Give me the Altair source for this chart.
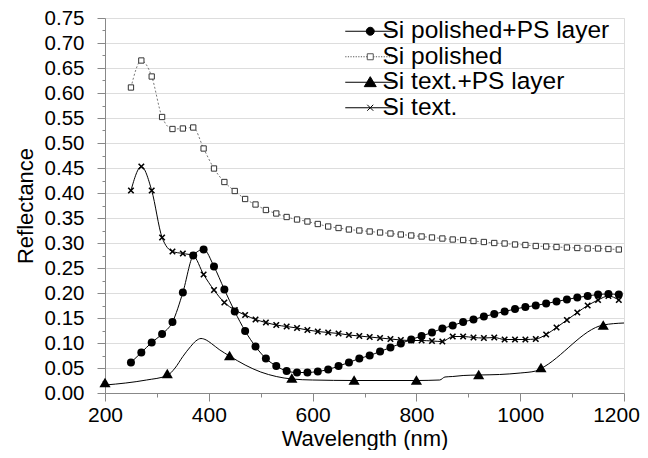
import altair as alt
import pandas as pd

# ---------------- data ----------------
wl = [250, 270, 290, 310, 330, 350, 370, 390, 410, 430, 450, 470, 490, 510, 530, 550,
      570, 590, 610, 630, 650, 670, 690, 710, 730, 750, 770, 790, 810, 830, 850, 870,
      890, 910, 930, 950, 970, 990, 1010, 1030, 1050, 1070, 1090, 1110, 1130, 1150, 1170, 1190]

si_pol_ps = [0.061, 0.081, 0.101, 0.118, 0.142, 0.201, 0.275, 0.287, 0.253, 0.207, 0.163, 0.124,
             0.093, 0.069, 0.054, 0.044, 0.041, 0.041, 0.043, 0.047, 0.054, 0.061, 0.069, 0.075,
             0.083, 0.091, 0.099, 0.107, 0.114, 0.121, 0.129, 0.135, 0.142, 0.147, 0.153, 0.158,
             0.163, 0.168, 0.172, 0.175, 0.179, 0.183, 0.187, 0.191, 0.194, 0.197, 0.198, 0.197]

si_pol = [0.611, 0.665, 0.633, 0.552, 0.528, 0.529, 0.531, 0.489, 0.449, 0.422, 0.404, 0.388,
          0.377, 0.366, 0.359, 0.352, 0.347, 0.343, 0.338, 0.333, 0.330, 0.327, 0.325, 0.323,
          0.321, 0.319, 0.317, 0.315, 0.313, 0.311, 0.309, 0.307, 0.306, 0.304, 0.302, 0.300,
          0.299, 0.297, 0.296, 0.294, 0.293, 0.292, 0.291, 0.290, 0.289, 0.289, 0.288, 0.287]

si_text = [0.405, 0.453, 0.405, 0.311, 0.283, 0.279, 0.275, 0.237, 0.206, 0.181, 0.166, 0.156,
           0.147, 0.141, 0.136, 0.133, 0.130, 0.126, 0.123, 0.121, 0.119, 0.116, 0.114, 0.112,
           0.110, 0.108, 0.106, 0.105, 0.105, 0.104, 0.103, 0.113, 0.113, 0.111, 0.110, 0.111,
           0.107, 0.107, 0.107, 0.108, 0.117, 0.131, 0.146, 0.161, 0.175, 0.186, 0.194, 0.186]

# Si text.+PS layer: measured curve and its triangle markers
tps_line_wl = [200, 240, 280, 320, 335, 350, 365, 375, 385, 395, 405, 420, 440, 470, 500, 530,
               560, 600, 680, 800, 845, 855, 870, 890, 920, 960, 1000, 1030, 1040, 1160, 1200]
tps_line_r = [0.016, 0.020, 0.026, 0.035, 0.050, 0.073, 0.093, 0.104, 0.109, 0.106, 0.099, 0.087,
              0.074, 0.056, 0.042, 0.033, 0.028, 0.026, 0.025, 0.025, 0.026, 0.032, 0.033, 0.035,
              0.036, 0.037, 0.040, 0.044, 0.049, 0.136, 0.140]
tps_mark_wl = [200, 320, 440, 560, 680, 800, 920, 1040, 1160]
tps_mark_r = [0.021, 0.039, 0.075, 0.030, 0.026, 0.026, 0.037, 0.051, 0.136]

series_names = ["Si polished+PS layer", "Si polished", "Si text.+PS layer", "Si text."]

x_ticks = list(range(200, 1201, 100))
y_ticks = [round(i * 0.025, 3) for i in range(31)]

# ---------------- styling ----------------
FONT = "Liberation Sans"


def dotted(a, b, seg=0.3, gap=0.35):
    parts = []
    p = a
    while p < b:
        parts.append(f"M{p:.2f},0H{min(p + seg, b):.2f}")
        p += seg + gap
    return "".join(parts)


L = 6.25
circ = "M1,0C1,0.552,0.552,1,0,1C-0.552,1,-1,0.552,-1,0C-1,-0.552,-0.552,-1,0,-1C0.552,-1,1,-0.552,1,0Z"
leg_shapes = [
    f"M-{L},0H{L}M" + circ[1:],
    dotted(-L, -0.75) + dotted(0.75, L) + "M-0.75,-0.75H0.75V0.75H-0.75Z",
    f"M-{L},0H{L}M0,-1.4L1.5,1.1L-1.5,1.1Z",
    f"M-{L},0H{L}M-0.75,-0.75L0.75,0.75M-0.75,0.75L0.75,-0.75",
]
leg_fill = ["black", "white", "black", "black"]
leg_stroke = ["black", "#555", "black", "black"]
xshape = "M-1,-1L1,1M-1,1L1,-1"

df_main = pd.DataFrame({"wl": wl, "pps": si_pol_ps, "pol": si_pol, "txt": si_text})
df_tl = pd.DataFrame({"wl": tps_line_wl, "r": tps_line_r})
df_tm = pd.DataFrame({"wl": tps_mark_wl, "r": tps_mark_r})
df_leg = pd.DataFrame({"series": series_names})

major_y = "round(datum.value*1000) % 50 == 0"
major_x = "datum.value % 200 == 0"

xscale = alt.Scale(domain=[200, 1200], nice=False)
yscale = alt.Scale(domain=[0, 0.75], nice=False)

xenc = alt.X("wl:Q", scale=xscale, title="Wavelength (nm)",
             axis=alt.Axis(values=x_ticks, grid=False, format="d",
                           labelExpr=f"{major_x} ? datum.label : ''",
                           tickSize={"condition": {"test": major_x, "value": 8}, "value": 4},
                           labelOffset={"condition": {"test": "datum.value == 1200", "value": -8}, "value": 0},
                           labelPadding=3, labelFontSize=21, titleFontSize=22,
                           titleFontWeight="normal", titleY=35, titleBaseline="top",
                           labelOverlap=False, labelFlush=False))


def yenc(field):
    return alt.Y(f"{field}:Q", scale=yscale, title="Reflectance",
                 axis=alt.Axis(values=y_ticks, grid=True,
                               labelExpr=f"{major_y} ? format(datum.value, '.2f') : ''",
                               gridOpacity={"condition": {"test": major_y, "value": 1}, "value": 0},
                               tickSize={"condition": {"test": major_y, "value": 8}, "value": 3},
                               labelPadding=13, labelFontSize=20.5, titleFontSize=22,
                               titleFontWeight="normal", titleX=-68,
                               labelOverlap=False, labelFlush=False))


base = alt.Chart(df_main).encode(x=xenc)

line_pps = base.mark_line(color="black", strokeWidth=1, interpolate="monotone").encode(y=yenc("pps"))
line_pol = base.mark_line(color="#777", strokeWidth=1, strokeDash=[2, 2], interpolate="monotone").encode(y=yenc("pol"))
line_txt = base.mark_line(color="black", strokeWidth=1, interpolate="monotone").encode(y=yenc("txt"))
line_tps = alt.Chart(df_tl).mark_line(color="black", strokeWidth=1, interpolate="monotone").encode(x=xenc, y=yenc("r"))

pt_pps = base.mark_point(shape="circle", filled=True, color="black", size=64, opacity=1).encode(y=yenc("pps"))
pt_pol = base.mark_point(shape="square", fill="white", stroke="#333", strokeWidth=1, size=28, opacity=1).encode(y=yenc("pol"))
pt_txt = base.mark_point(shape=xshape, color="black", strokeWidth=1.6, size=30, opacity=1).encode(y=yenc("txt"))
pt_tps = alt.Chart(df_tm).mark_point(shape="triangle-up", filled=True, color="black", size=125, opacity=1).encode(x=xenc, y=yenc("r"))

legend = alt.Chart(df_leg).mark_point(opacity=1, filled=True).encode(
    shape=alt.Shape("series:N", scale=alt.Scale(domain=series_names, range=leg_shapes),
                    legend=alt.Legend(title=None, orient="none", legendX=253, legendY=1,
                                      labelFontSize=24.5, labelFont=FONT, labelLimit=400,
                                      symbolSize=64, symbolStrokeWidth=1, symbolOpacity=1,
                                      labelOffset=0, rowPadding=0.5, padding=0)),
    fill=alt.Fill("series:N", scale=alt.Scale(domain=series_names, range=leg_fill)),
    stroke=alt.Stroke("series:N", scale=alt.Scale(domain=series_names, range=leg_stroke)),
).transform_filter("datum.series == 'none'")

chart = alt.layer(
    line_pol, line_pps, line_txt, line_tps,
    pt_pol, pt_pps, pt_txt, pt_tps,
    legend,
).properties(
    width=519, height=375,
    padding={"left": 97, "top": 10, "right": 16, "bottom": 57},
    autosize=alt.AutoSizeParams(type="none"),
).configure_view(
    stroke="black", strokeWidth=1.2
).configure_axis(
    labelFont=FONT, titleFont=FONT, labelColor="black", titleColor="black",
    domainColor="black", domainWidth=1.2, tickColor="black", tickWidth=1.2,
    gridColor="black", gridWidth=1.6
).configure(background="white")

chart.save("out.html", embed_options={"renderer": "svg", "actions": False})
